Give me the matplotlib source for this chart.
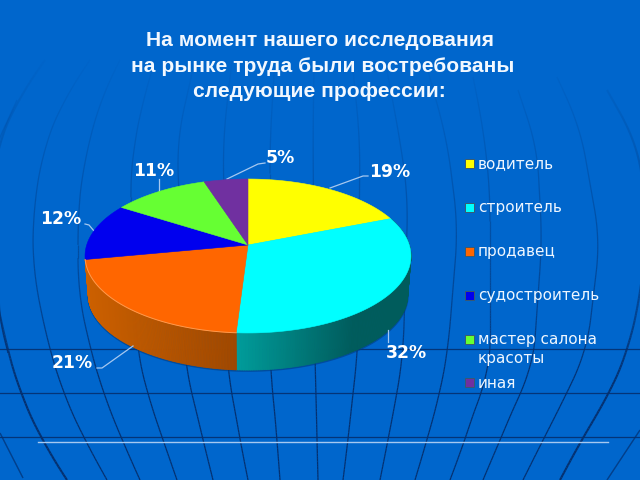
import numpy as np
import matplotlib
matplotlib.use('Agg')
import matplotlib.pyplot as plt
from matplotlib.collections import LineCollection, PolyCollection

# Pie data, clockwise from the top
professions = ['водитель', 'строитель', 'продавец', 'судостроитель', 'мастер салона\nкрасоты', 'иная']
shares = [19, 32, 21, 12, 11, 5]
colors = ['#ffff00', '#00ffff', '#ff6600', '#0000ee', '#66ff33', '#7030a0']
title_lines = ['На момент нашего исследования', 'на рынке труда были востребованы', 'следующие профессии:']

# Curved background lines: (y, x) points along each one
meridians = [
    ([100, 150, 322, 353], [17, -6, 0, 8]),
    ([433, 478], [0, 23]),
    ([60, 100, 150, 250, 348, 393, 443, 480], [45, 17, -4, -14, 7, 20, 43, 67]),
    ([60, 100, 150, 213, 270, 340, 393, 437, 480], [90, 63, 43, 33, 33, 47, 63, 83, 107]),
    ([60, 100, 167, 213, 290, 340, 393, 440, 480], [120, 100, 83, 78, 78, 88, 103, 122, 140]),
    ([60, 100, 150, 190, 350, 393, 440, 480], [155, 143, 133, 130, 137, 147, 163, 177]),
    ([60, 140, 367, 393, 440, 480], [195, 177, 185, 192, 203, 213]),
    ([60, 140, 370, 393, 440, 480], [232, 223, 227, 232, 240, 248]),
    ([60, 140, 370, 393, 440, 480], [275, 270, 270, 273, 277, 280]),
    ([60, 140, 363, 393, 440, 480], [314, 313, 315, 316, 317, 318]),
    ([60, 140, 350, 393, 440, 480], [352, 360, 358, 353, 348, 343]),
    ([60, 140, 197, 357, 393, 440, 480], [385, 400, 408, 403, 397, 388, 380]),
    ([60, 140, 227, 350, 393, 440, 480], [425, 447, 458, 448, 440, 427, 415]),
    ([77, 127, 190, 373, 393, 440, 480], [473, 483, 490, 490, 480, 465, 450]),
    ([90, 147, 240, 367, 393, 440, 480], [518, 537, 542, 533, 520, 500, 483]),
    ([77, 127, 240, 350, 393, 440, 480], [557, 580, 600, 587, 567, 543, 523]),
    ([90, 143, 220, 297, 350, 393, 437, 480], [607, 637, 648, 640, 628, 610, 583, 560]),
    ([430, 480], [640, 607]),
]
thick_lines = [2, 16]
horizontals = [349, 393, 437]

CX, CY = 248, 245
RX, RY, K = 161.3, 75.4, 1 / 7
DEPTH, BOTTOM_SCALE = 38.8, 0.98


def project(theta, bottom=False):
    # perspective view of the pie disc, theta in degrees clockwise from the top
    t = np.radians(theta)
    u, v = np.sin(t), np.cos(t)
    w = 1 + K * v
    if bottom:
        return CX + BOTTOM_SCALE * RX * u / w, CY + DEPTH - BOTTOM_SCALE * RY * v / w
    return CX + RX * u / w, CY - RY * v / w


def draw_wall(start, end, left_color, right_color, x_range):
    left_rgb = np.array(matplotlib.colors.to_rgb(left_color))
    right_rgb = np.array(matplotlib.colors.to_rgb(right_color))
    thetas = np.linspace(start, end, 160)
    quads, quad_colors = [], []
    for a, b in zip(thetas[:-1], thetas[1:]):
        xa, ya = project(a)
        xb, yb = project(b)
        xc, yc = project(b, True)
        xd, yd = project(a, True)
        quads.append([(xa, ya), (xb, yb), (xc, yc), (xd, yd)])
        f = np.clip((xc - x_range[0]) / (x_range[1] - x_range[0]), 0, 1)
        quad_colors.append(left_rgb + (right_rgb - left_rgb) * f)
    ax.add_collection(PolyCollection(quads, facecolors=quad_colors, edgecolors=quad_colors,
                                     linewidths=0.6, zorder=3))


def smooth_curve(ys, xs):
    # dense polyline through the points, rounded off with a moving average
    yy = np.linspace(ys[0], ys[-1], 160)
    xx = np.interp(yy, ys, xs)
    if len(ys) > 2:
        pad = 12
        kernel = np.ones(2 * pad + 1) / (2 * pad + 1)
        xx = np.convolve(np.pad(xx, pad, mode='reflect', reflect_type='odd'), kernel, mode='valid')
    return xx, yy


fig = plt.figure(figsize=(6.4, 4.8), dpi=100, facecolor='#0066cc')
ax = fig.add_axes([0, 0, 1, 1])
ax.set_xlim(0, 640)
ax.set_ylim(480, 0)
ax.axis('off')

# Background grid, fading out towards the top
line_rgb = matplotlib.colors.to_rgb('#05306f')
for i, (ys, xs) in enumerate(meridians):
    xx, yy = smooth_curve(ys, xs)
    pts = np.column_stack([xx, yy])
    segs = np.stack([pts[:-1], pts[1:]], axis=1)
    alpha = np.interp(yy[:-1], [50, 150, 300, 380], [0.0, 0.22, 0.6, 1.0])
    rgba = [line_rgb + (a,) for a in alpha]
    ax.add_collection(LineCollection(segs, colors=rgba, linewidths=1.5 if i in thick_lines else 0.9, zorder=1))
for y in horizontals:
    ax.plot([0, 640], [y, y], color='#05306f', lw=0.9, alpha=0.9, zorder=1)
ax.plot([37.5, 608], [442, 442], color='#a6c8f0', lw=1.0, zorder=2)

# Pie: side wall first, then the top wedges
boundaries = np.cumsum([0] + shares) * 3.6
shadow_x, shadow_y = project(np.linspace(60, 262, 200), True)
ax.plot(shadow_x, shadow_y + 0.8, color='#003b80', lw=1.5, alpha=0.6, zorder=2)
draw_wall(boundaries[1], boundaries[2], '#009c9a', '#005c5c', (236, 350))
draw_wall(boundaries[2], boundaries[3], '#cc6000', '#a04800', (88, 236))

for start, end, color in zip(boundaries[:-1], boundaries[1:], colors):
    thetas = np.linspace(start, end, 120)
    x, y = project(thetas)
    ax.fill(np.r_[CX, x], np.r_[CY, y], facecolor=color, edgecolor=color, lw=0.4, zorder=4)

edge_x, edge_y = project(np.linspace(boundaries[2], boundaries[3], 100))
ax.plot(edge_x, edge_y, color='#ff9a4d', lw=0.7, zorder=5)

# Value labels and their leader lines
label_pos = [(369, 172), (386, 353), (52, 363), (40, 219), (133, 171), (266, 158)]
leaders = [
    [(330, 188), (363, 176), (368, 176)],
    [(388, 330), (388, 342)],
    [(133, 346), (102, 368), (97, 368)],
    [(94, 231), (89, 225), (85, 224)],
    [(159, 192), (159, 179)],
    [(227, 179), (258, 164), (265, 163)],
]
for path in leaders:
    xs, ys = zip(*path)
    ax.plot(xs, ys, color='#a6c8f0', lw=0.9, zorder=3)
for value, (x, y) in zip(shares, label_pos):
    ax.text(x, y, f'{value}%', color='white', fontsize=12.4, fontweight='bold',
            family='DejaVu Sans', ha='left', va='center', zorder=6)

# Legend
legend_y = [163, 207, 251, 295, 339, 382]
legend_base = [168, 212, 256, 300, 344, 388]
for name, color, y, base in zip(professions, colors, legend_y, legend_base):
    ax.fill([465, 474, 474, 465], [y - 4.5, y - 4.5, y + 4.5, y + 4.5], facecolor=color,
            edgecolor='#3a5a70', lw=0.7, zorder=6)
    for i, part in enumerate(name.split('\n')):
        ax.text(478, base + i * 19.5, part, color='#eef6ff', fontsize=11.0,
                family='DejaVu Sans', ha='left', va='baseline', zorder=6)

# Heading
title_x = [319.5, 323, 319]
title_base = [46, 72, 97]
for line, x, y in zip(title_lines, title_x, title_base):
    ax.text(x, y, line, color='#f2f8ff', fontsize=15.1, fontweight='bold', family='Liberation Sans',
            ha='center', va='baseline', zorder=6)

fig.savefig('out.png', dpi=100, facecolor=fig.get_facecolor())
